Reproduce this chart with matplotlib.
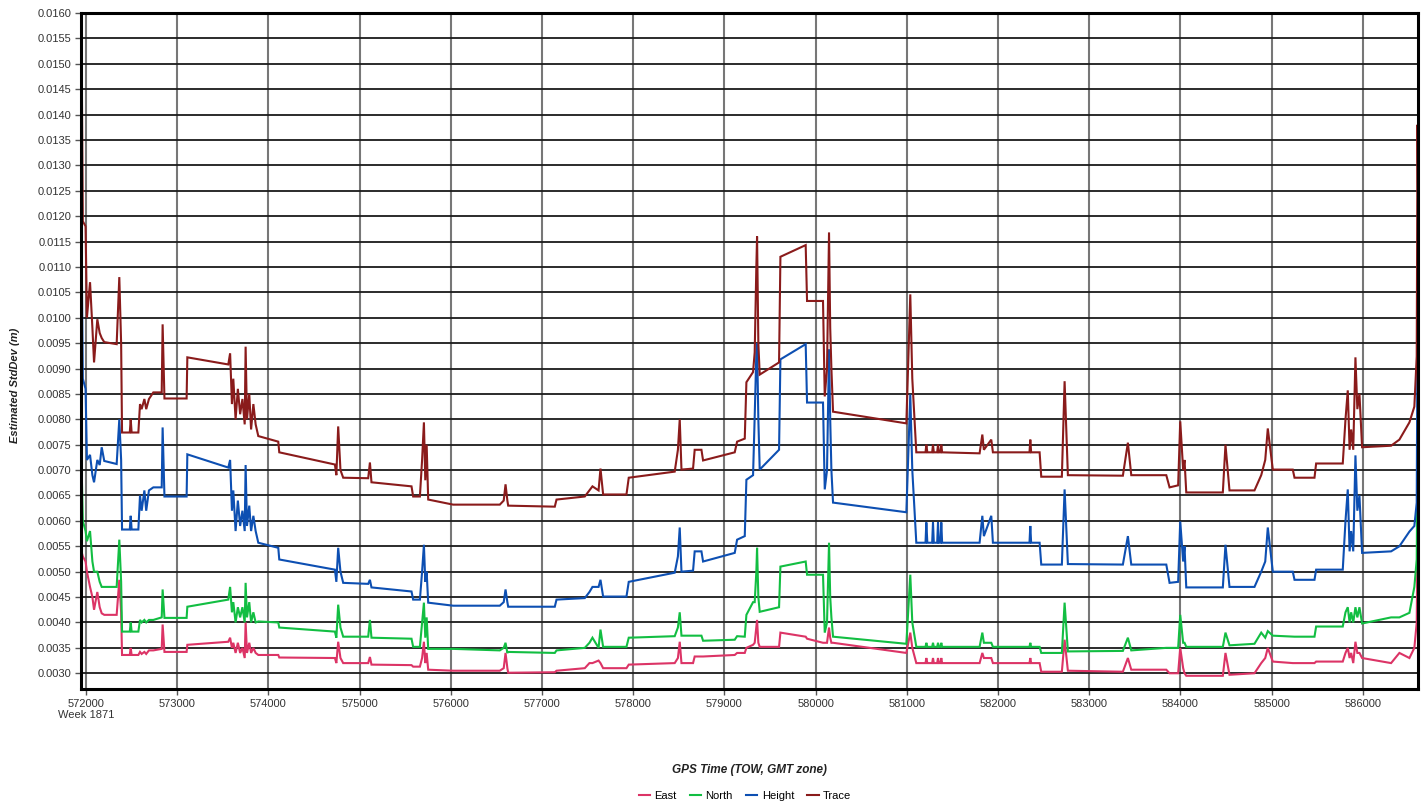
import matplotlib
matplotlib.use("Agg")
import matplotlib.pyplot as plt
from matplotlib.ticker import MultipleLocator, FormatStrFormatter

plt.rcParams["font.family"] = ["Liberation Sans", "DejaVu Sans"]

# GPS time of week (s) and estimated std deviations (m)
tow = [
    571950, 571965, 571995, 572010, 572044, 572070, 572088, 572124, 572150, 572172,
    572200, 572336, 572365, 572385, 572395, 572480, 572490, 572500, 572574, 572592,
    572610, 572640, 572660, 572690, 572738, 572830, 572840, 572860, 573103, 573111,
    573560, 573580, 573600, 573615, 573640, 573665, 573690, 573715, 573740, 573750,
    573765, 573790, 573810, 573835, 573860, 573889, 574108, 574119, 574729, 574745,
    574765, 574790, 574820, 575094, 575113, 575130, 575569, 575587, 575661, 575685,
    575705, 575720, 575735, 575752, 576026, 576537, 576580, 576600, 576620, 576629,
    577140, 577159, 577469, 577520, 577553, 577620, 577641, 577670, 577926, 577951,
    578455, 578490, 578510, 578529, 578656, 578674, 578748, 578766, 579113, 579139,
    579223, 579241, 579314, 579332, 579350, 579358, 579372, 579387, 579599, 579614,
    579891, 579906, 580081, 580100, 580125, 580147, 580160, 580173, 580191, 580995,
    581038, 581060, 581104, 581205, 581214, 581225, 581278, 581287, 581296, 581333,
    581342, 581351, 581369, 581378, 581387, 581798, 581828, 581845, 581926, 581944,
    582345, 582354, 582363, 582456, 582474, 582700, 582730, 582766, 583369, 583424,
    583461, 583845, 583881, 583975, 583998, 584030, 584045, 584064, 584465, 584494,
    584538, 584812, 584886, 584930, 584958, 585013, 585232, 585251, 585470, 585488,
    585780, 585810, 585835, 585855, 585872, 585895, 585919, 585940, 585963, 585992,
    586310, 586401, 586511, 586565, 586591, 586600, 586605,
]

east = [
    .0054, .0053, .0052, .0050, .0047, .0045, .00425, .0046, .0043, .00418,
    .00415, .00415, .00484, .0042, .00336, .00336, .0035, .00336, .00336, .00342,
    .00338, .00342, .00338, .00345, .00345, .00348, .00396, .00342, .00342, .00356,
    .00362, .0037, .0035, .0036, .0034, .0036, .0034, .0035, .0033, .0040,
    .0034, .0036, .0034, .0035, .0034, .00336, .00336, .00331, .0033, .0032,
    .00362, .0033, .0032, .0032, .00332, .00317, .00316, .00313, .00313, .0033,
    .00362, .0032, .0034, .00307, .00305, .00305, .0031, .0034, .0031, .00301,
    .00302, .00305, .0031, .0032, .0032, .00325, .0032, .0031, .0031, .00317,
    .0032, .0033, .00362, .0032, .0032, .00333, .00333, .00333, .00336, .0034,
    .0034, .0035, .00356, .0036, .0039, .00405, .0036, .00352, .00352, .0038,
    .00372, .00368, .0036, .0036, .0036, .0039, .0037, .0036, .0036, .0034,
    .0038, .0035, .0032, .0032, .0033, .0032, .0032, .0033, .0032, .0032,
    .0033, .0032, .0032, .0033, .0032, .0032, .0034, .0033, .0033, .0032,
    .0032, .0033, .0032, .0032, .00303, .00303, .00366, .00305, .00303, .0033,
    .00307, .00307, .0030, .0030, .0035, .0031, .0030, .00295, .00295, .0034,
    .00297, .0030, .0032, .0033, .0035, .00323, .0032, .0032, .0032, .00323,
    .00323, .0034, .0035, .0033, .0034, .0032, .00362, .0034, .0034, .0033,
    .0032, .0034, .0033, .0035, .0040, .0058, .0050,
]

north = [
    .0072, .0060, .0058, .0056, .0058, .0052, .0050, .0050, .0048, .0047,
    .0047, .0047, .00563, .0048, .00382, .00382, .0040, .00382, .00382, .00405,
    .0040, .00405, .0040, .00405, .00405, .0041, .00465, .00409, .00409, .00431,
    .00445, .0047, .0042, .0044, .0040, .0043, .0041, .0043, .0040, .00478,
    .0041, .0044, .0040, .0042, .0040, .00402, .0040, .0039, .00382, .0037,
    .00435, .0039, .00372, .00372, .00405, .0037, .00368, .00352, .00352, .0040,
    .00439, .0037, .0041, .00348, .00348, .00345, .0035, .0036, .0034, .00342,
    .0034, .00345, .0035, .0036, .0037, .0035, .00386, .00352, .00352, .0037,
    .00373, .0039, .0042, .00374, .00374, .00374, .00374, .00364, .00366, .00373,
    .00372, .00415, .0044, .0044, .0050, .00547, .0045, .00421, .0043, .0051,
    .0052, .00494, .00494, .0038, .0040, .00557, .0045, .0041, .00372, .00358,
    .00494, .0040, .00352, .00352, .0036, .00352, .00352, .0036, .00352, .00352,
    .0036, .00352, .00352, .0036, .00352, .00352, .0038, .0036, .0036, .00352,
    .00352, .0036, .00352, .00352, .0034, .0034, .00439, .00343, .00344, .0037,
    .00345, .0035, .0035, .0035, .00415, .0036, .0036, .00352, .00352, .0038,
    .00355, .00358, .0038, .0037, .00383, .00374, .00372, .00372, .00372, .00392,
    .00392, .0042, .0043, .0040, .0042, .0040, .0043, .0041, .0043, .00398,
    .0041, .0041, .00419, .0047, .00524, .0075, .0069,
]

height = [
    .0118, .0088, .0086, .0072, .0073, .0069, .00676, .0072, .0071, .00745,
    .00718, .00712, .0080, .0072, .00583, .00583, .0061, .00583, .00583, .0065,
    .0062, .0066, .0062, .0066, .00666, .00666, .00784, .00648, .00648, .00731,
    .00705, .0072, .0062, .0066, .0058, .0064, .0059, .0062, .0058, .0071,
    .0059, .0063, .0058, .0061, .0058, .00557, .00547, .00524, .00504, .0048,
    .00547, .0050, .00478, .00476, .00484, .00469, .00461, .00445, .00445, .0050,
    .00553, .0048, .0050, .00439, .00433, .00433, .0044, .00465, .0044, .00431,
    .00431, .00445, .00448, .0046, .0047, .0047, .00484, .00451, .00451, .0048,
    .00498, .0053, .00587, .0050, .00502, .0054, .0054, .0052, .00537, .00563,
    .0057, .00681, .0069, .00806, .0093, .0095, .0080, .00701, .0074, .00918,
    .00948, .00833, .00833, .00662, .0070, .00938, .0080, .0070, .00636, .00617,
    .00849, .0070, .00557, .00557, .00597, .00557, .00557, .00597, .00557, .00557,
    .00597, .00557, .00557, .00597, .00557, .00557, .0061, .0057, .0061, .00557,
    .00557, .0059, .00557, .00557, .00514, .00514, .00662, .00515, .00514, .0057,
    .00514, .00514, .00478, .0048, .00599, .0052, .0055, .00469, .00469, .00553,
    .0047, .0047, .0050, .0052, .00587, .0050, .0050, .00484, .00484, .00504,
    .00504, .0060, .00662, .0054, .0058, .0054, .00729, .0062, .0065, .00537,
    .0054, .0055, .00579, .0059, .00636, .0100, .0093,
]

trace = [
    .0158, .0119, .0118, .0100, .0107, .0098, .00912, .00997, .0097, .0096,
    .00952, .00948, .0108, .0095, .00774, .00774, .0080, .00774, .00774, .0083,
    .0082, .0084, .0082, .0084, .00853, .00853, .00987, .00841, .00841, .00922,
    .00908, .0093, .0083, .0088, .0080, .0086, .0081, .0084, .0079, .00943,
    .0080, .0085, .0078, .0083, .0079, .00767, .00756, .00735, .00711, .0069,
    .00786, .0070, .00685, .00684, .00715, .00676, .00668, .00648, .00648, .0072,
    .00794, .0068, .0075, .00642, .00632, .00632, .0064, .00672, .0064, .0063,
    .00628, .00642, .00648, .0066, .00668, .0066, .00703, .00652, .00652, .00685,
    .00697, .0074, .0080, .00701, .00703, .0074, .0074, .00719, .00735, .00756,
    .00762, .00873, .00893, .00932, .0110, .0116, .0095, .00888, .00912, .0112,
    .01143, .01033, .01033, .00845, .0090, .01168, .0098, .0090, .00815, .00792,
    .01046, .0088, .00735, .00735, .0075, .00735, .00735, .0075, .00735, .00735,
    .0075, .00735, .00735, .0075, .00735, .00733, .0077, .0074, .0076, .00735,
    .00735, .0076, .00735, .00735, .00687, .00687, .00875, .0069, .00689, .00754,
    .0069, .0069, .00666, .0067, .00796, .0070, .0072, .00656, .00656, .0075,
    .0066, .0066, .0069, .0072, .00782, .00701, .00701, .00685, .00685, .00713,
    .00713, .0080, .00857, .0074, .0078, .0074, .00922, .0082, .0085, .00745,
    .00748, .0076, .00794, .00825, .00924, .0138, .0125,
]

series = [
    ("East", east, "#DC3466"),
    ("North", north, "#12BE42"),
    ("Height", height, "#0D4FB2"),
    ("Trace", trace, "#8A1B1B"),
]

W, H = 1426, 806
fig = plt.figure(figsize=(W / 100, H / 100), dpi=100)
ax = fig.add_axes([81 / W, 1 - 689 / H, (1418 - 81) / W, (689 - 13) / H])

for name, vals, col in series:
    ax.plot(tow, vals, color=col, lw=1.5, label=name, solid_joinstyle="miter")

ax.set_xlim(571945, 586605)
ax.set_ylim(0.00269, 0.0160)
ax.xaxis.set_major_locator(MultipleLocator(1000))
ax.yaxis.set_major_locator(MultipleLocator(0.0005))
ax.yaxis.set_major_formatter(FormatStrFormatter("%.4f"))
fig.canvas.draw()
xt = [t for t in ax.get_xticks() if 571945 <= t <= 586605]
ax.set_xticks(xt)
ax.set_xticklabels([f"{int(t)}" + ("\nWeek 1871" if i == 0 else "") for i, t in enumerate(xt)])

ax.yaxis.grid(True, color="#1a1a1a", lw=1.3)
ax.xaxis.grid(True, color="#777777", lw=1.5)
ax.set_axisbelow(True)
for s in ax.spines.values():
    s.set_linewidth(2.2)
    s.set_color("black")
ax.tick_params(axis="both", labelsize=8, labelcolor="#333333", color="#555555",
               length=4, width=1, direction="out", pad=3)

fig.text(15 / W, 1 - 385 / H, "Estimated StdDev (m)", rotation=90, ha="center", va="center",
         fontsize=8, fontweight="bold", style="italic", color="#222222")
fig.text(749.5 / W, 1 - 770 / H, "GPS Time (TOW, GMT zone)", ha="center", va="center",
         fontsize=8.5, fontweight="bold", style="italic", color="#222222")

fig.legend(loc="center", bbox_to_anchor=(745 / W, 1 - 796 / H), ncol=4, frameon=False,
           fontsize=8, handlelength=1.0, handletextpad=0.4, columnspacing=1.2)

fig.savefig("out.png", dpi=100)
